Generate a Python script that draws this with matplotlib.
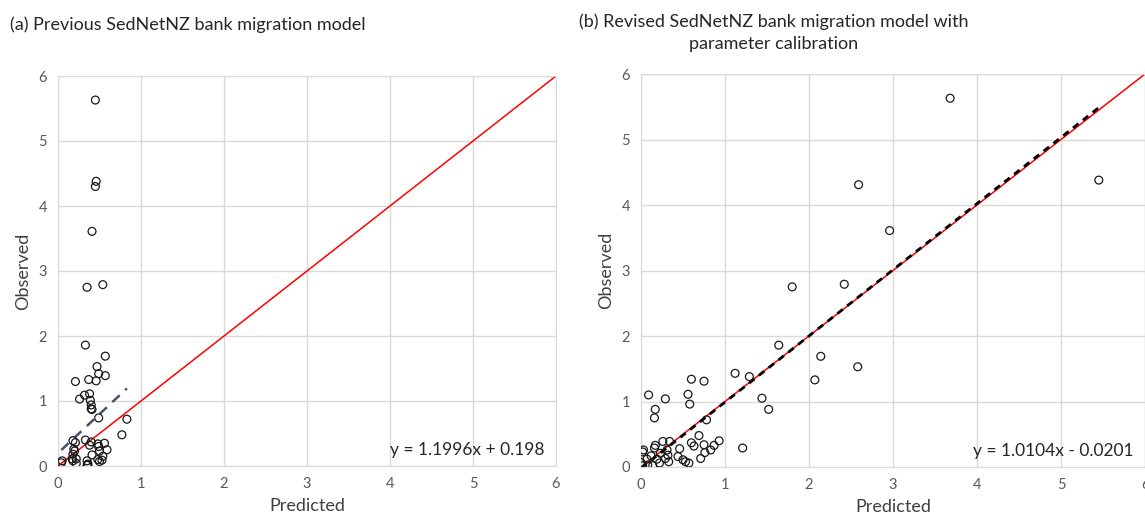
import matplotlib
matplotlib.use("Agg")
import matplotlib.pyplot as plt
import numpy as np

plt.rcParams['font.family'] = ['Lato', 'DejaVu Sans']

# === data ===
prev_pred = [0.45, 0.46, 0.45, 0.41, 0.35, 0.54, 0.33, 0.57, 0.47, 0.49,
             0.57, 0.37, 0.46, 0.21, 0.32, 0.38, 0.26, 0.39, 0.40, 0.40,
             0.41, 0.49, 0.83, 0.77, 0.18, 0.21, 0.33, 0.40, 0.38, 0.48,
             0.56, 0.49, 0.59, 0.50, 0.19, 0.20, 0.41, 0.54, 0.18, 0.17,
             0.22, 0.48, 0.53, 0.35, 0.05, 0.04, 0.50, 0.22, 0.36, 0.36,
             0.35, 0.18]
prev_obs = [5.63, 4.38, 4.30, 3.61, 2.75, 2.79, 1.86, 1.69, 1.53, 1.42,
            1.39, 1.33, 1.31, 1.30, 1.09, 1.11, 1.03, 1.01, 0.94, 0.88,
            0.87, 0.74, 0.72, 0.48, 0.39, 0.36, 0.40, 0.37, 0.32, 0.34,
            0.35, 0.30, 0.25, 0.23, 0.26, 0.23, 0.17, 0.15, 0.18, 0.11,
            0.11, 0.10, 0.09, 0.08, 0.08, 0.05, 0.07, 0.04, 0.03, 0.02,
            0.01, 0.08]

rev_pred = [3.68, 2.59, 1.80, 2.42, 2.96, 5.45, 1.64, 2.14, 2.58, 2.07,
            1.12, 1.29, 0.60, 0.75, 0.56, 0.09, 0.29, 1.44, 0.58, 1.52,
            0.17, 0.16, 0.78, 0.69, 0.93, 1.21, 0.60, 0.63, 0.75, 0.87,
            0.83, 0.76, 0.71, 0.46, 0.44, 0.50, 0.53, 0.57, 0.34, 0.26,
            0.17, 0.16, 0.31, 0.23, 0.32, 0.33, 0.29, 0.19, 0.12, 0.03,
            0.02, 0.07, 0.00, 0.02, 0.08, 0.14, 0.22]
rev_obs = [5.63, 4.31, 2.75, 2.79, 3.61, 4.38, 1.86, 1.69, 1.53, 1.33,
           1.43, 1.38, 1.34, 1.31, 1.11, 1.10, 1.04, 1.05, 0.96, 0.88,
           0.88, 0.75, 0.72, 0.48, 0.40, 0.29, 0.37, 0.32, 0.34, 0.33,
           0.26, 0.22, 0.13, 0.28, 0.16, 0.11, 0.08, 0.06, 0.39, 0.39,
           0.33, 0.29, 0.26, 0.21, 0.18, 0.08, 0.13, 0.12, 0.17, 0.26,
           0.23, 0.12, 0.07, 0.02, 0.03, 0.02, 0.06]

prev_fit = (1.1996, 0.198)
rev_fit = (1.0104, -0.0201)

grid_col = "#d9d9d9"
text_col = "#595959"

fig = plt.figure(figsize=(11.45, 5.21), dpi=100)
ax1 = fig.add_axes([58 / 1145, 55 / 521, 498 / 1145, 390 / 521])
ax2 = fig.add_axes([641 / 1145, 54 / 521, 504 / 1145, 393 / 521])


def style(ax):
    ax.set_xlim(0, 6)
    ax.set_ylim(0, 6)
    ax.set_xticks(range(7))
    ax.set_yticks(range(7))
    ax.grid(True, color=grid_col, lw=1)
    ax.set_axisbelow(True)
    for s in ax.spines.values():
        s.set_color(grid_col)
    ax.tick_params(length=0, labelsize=10.5, labelcolor=text_col, pad=8)
    ax.set_xlabel("Predicted", fontsize=13, color="#404040", labelpad=5)
    ax.set_ylabel("Observed", fontsize=13, color="#404040", labelpad=5)


one_to_one = np.array([0, 6])

# (a) previous model
style(ax1)
ax1.plot(one_to_one, one_to_one, color="red", lw=1.1, zorder=2)
fx = np.array([min(prev_pred), max(prev_pred)])
ax1.plot(fx, prev_fit[0] * fx + prev_fit[1], color="#44546A", lw=1.8,
         ls=(0, (4, 3)), zorder=3)
ax1.scatter(prev_pred, prev_obs, s=32, facecolors="none", edgecolors="#1a1a1a",
            linewidths=0.9, zorder=4)
ax1.text(4.0, 0.24, "y = 1.1996x + 0.198", fontsize=12.5, color="#262626",
         va="center")

# (b) revised model
style(ax2)
ax2.plot(one_to_one, one_to_one, color="red", lw=1.1, zorder=2)
fx = np.array([min(rev_pred), max(rev_pred)])
ax2.plot(fx, rev_fit[0] * fx + rev_fit[1], color="black", lw=2,
         ls=(0, (2.5, 2)), zorder=3)
ax2.scatter(rev_pred, rev_obs, s=32, facecolors="none", edgecolors="#1a1a1a",
            linewidths=0.9, zorder=4)
ax2.text(3.95, 0.24, "y = 1.0104x - 0.0201", fontsize=12.5, color="#262626",
         va="center")

fig.text(10 / 1145, 1 - 25 / 521, "(a) Previous SedNetNZ bank migration model",
         fontsize=13, va="center", ha="left", color="#262626")
fig.text(774 / 1145, 1 - 33 / 521,
         "(b) Revised SedNetNZ bank migration model with\nparameter calibration",
         fontsize=13, va="center", ha="center", color="#262626",
         linespacing=1.45)

fig.savefig("out.png", dpi=100)
